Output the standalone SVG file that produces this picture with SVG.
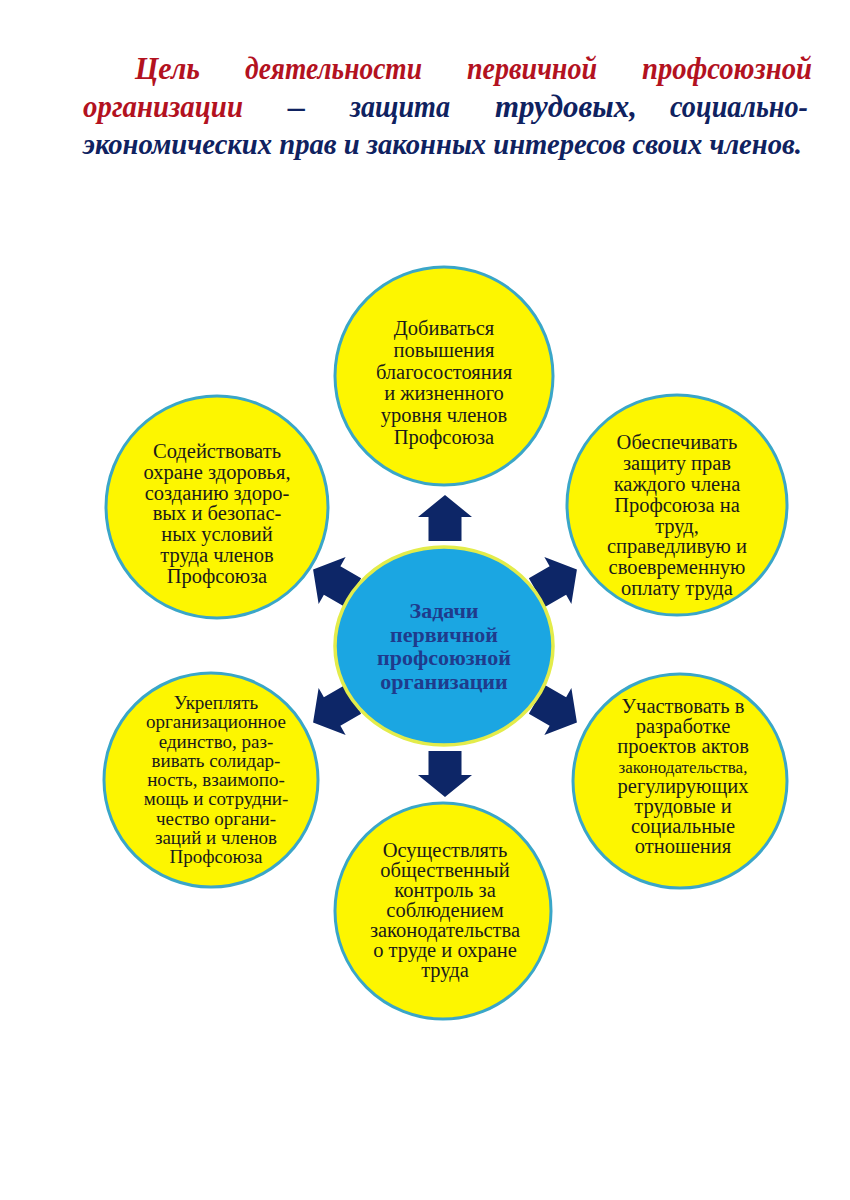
<svg xmlns="http://www.w3.org/2000/svg" width="850" height="1200" viewBox="0 0 850 1200">
<style>
.title{font-family:"Liberation Serif","DejaVu Serif",serif;font-style:italic;font-weight:bold;font-size:31px}
.red{fill:#b3121f}
.navy{fill:#0f2260}
.outer{fill:#fdf600;stroke:#3aa6c8;stroke-width:3}
.center{fill:#1ba6e2;stroke:#e3ec4a;stroke-width:3.5}
.t{font-family:"Liberation Serif","DejaVu Serif",serif;font-size:20.5px;fill:#1a1a1a;text-anchor:middle}
.ts{font-size:19px}
.tc{font-family:"Liberation Serif","DejaVu Serif",serif;font-size:22px;font-weight:bold;fill:#1f3b8c;text-anchor:middle}
.arrow{fill:#0d2667}
</style>
<defs>
<path id="arr" d="M0,-23 L27,-1 L16.5,-1 L16.5,23 L-16.5,23 L-16.5,-1 L-27,-1 Z"/>
</defs>
<rect width="850" height="1200" fill="#ffffff"/>

<g id="title">
<text class="title red" x="135" y="79" textLength="65" lengthAdjust="spacingAndGlyphs">Цель</text>
<text class="title red" x="245" y="79" textLength="177" lengthAdjust="spacingAndGlyphs">деятельности</text>
<text class="title red" x="467" y="79" textLength="130" lengthAdjust="spacingAndGlyphs">первичной</text>
<text class="title red" x="642" y="79" textLength="170" lengthAdjust="spacingAndGlyphs">профсоюзной</text>
<text class="title red" x="83" y="117" textLength="160" lengthAdjust="spacingAndGlyphs">организации</text>
<text class="title navy" x="288" y="117" textLength="17" lengthAdjust="spacingAndGlyphs">–</text>
<text class="title navy" x="350" y="117" textLength="100" lengthAdjust="spacingAndGlyphs">защита</text>
<text class="title navy" x="495" y="117" textLength="142" lengthAdjust="spacingAndGlyphs">трудовых,</text>
<text class="title navy" x="670" y="117" textLength="138" lengthAdjust="spacingAndGlyphs">социально-</text>
<text class="title navy" x="83" y="154" style="font-size:29px" textLength="719" lengthAdjust="spacingAndGlyphs">экономических прав и законных интересов своих членов.</text>
</g>

<g id="connectors" class="arrow">
<use href="#arr" transform="translate(445,518)"/>
<use href="#arr" transform="translate(557,581) rotate(60)"/>
<use href="#arr" transform="translate(557,711) rotate(120)"/>
<use href="#arr" transform="translate(445,774) rotate(180)"/>
<use href="#arr" transform="translate(333,711) rotate(240)"/>
<use href="#arr" transform="translate(333,581) rotate(300)"/>
</g>

<g id="node-center">
<ellipse class="center" cx="444" cy="646" rx="109" ry="99"/>
<text class="tc" x="444" y="618">Задачи</text>
<text class="tc" x="444" y="641.5">первичной</text>
<text class="tc" x="444" y="665">профсоюзной</text>
<text class="tc" x="444" y="688.5">организации</text>
</g>

<g id="node-top">
<circle class="outer" cx="444" cy="376" r="109"/>
<text class="t" x="444" y="335">Добиваться</text>
<text class="t" x="444" y="356.8">повышения</text>
<text class="t" x="444" y="378.6">благосостояния</text>
<text class="t" x="444" y="400.4">и жизненного</text>
<text class="t" x="444" y="422.2">уровня членов</text>
<text class="t" x="444" y="444">Профсоюза</text>
</g>

<g id="node-top-right">
<circle class="outer" cx="677" cy="505" r="110"/>
<text class="t" x="677" y="449">Обеспечивать</text>
<text class="t" x="677" y="470">защиту прав</text>
<text class="t" x="677" y="491">каждого члена</text>
<text class="t" x="677" y="512">Профсоюза на</text>
<text class="t" x="677" y="533">труд,</text>
<text class="t" x="677" y="553">справедливую и</text>
<text class="t" x="677" y="574">своевременную</text>
<text class="t" x="677" y="595">оплату труда</text>
</g>

<g id="node-top-left">
<circle class="outer" cx="217" cy="507" r="111"/>
<text class="t" x="217" y="458">Содействовать</text>
<text class="t" x="217" y="478.8">охране здоровья,</text>
<text class="t" x="217" y="499.6">созданию здоро-</text>
<text class="t" x="217" y="520.4">вых и безопас-</text>
<text class="t" x="217" y="541.2">ных условий</text>
<text class="t" x="217" y="562">труда членов</text>
<text class="t" x="217" y="583">Профсоюза</text>
</g>

<g id="node-bottom-left">
<circle class="outer" cx="211" cy="780" r="107"/>
<text class="t ts" x="216" y="709">Укреплять</text>
<text class="t ts" x="216" y="728.3">организационное</text>
<text class="t ts" x="216" y="747.5">единство, раз-</text>
<text class="t ts" x="216" y="766.8">вивать солидар-</text>
<text class="t ts" x="216" y="786">ность, взаимопо-</text>
<text class="t ts" x="216" y="805.3">мощь и сотрудни-</text>
<text class="t ts" x="216" y="824.5">чество органи-</text>
<text class="t ts" x="216" y="843.8">заций и членов</text>
<text class="t ts" x="216" y="863">Профсоюза</text>
</g>

<g id="node-bottom-right">
<circle class="outer" cx="680" cy="781" r="107"/>
<text class="t" x="683" y="713">Участвовать в</text>
<text class="t" x="683" y="733">разработке</text>
<text class="t" x="683" y="753">проектов актов</text>
<text class="t" x="683" y="773" style="font-size:17px">законодательства,</text>
<text class="t" x="683" y="793">регулирующих</text>
<text class="t" x="683" y="813">трудовые и</text>
<text class="t" x="683" y="833">социальные</text>
<text class="t" x="683" y="853">отношения</text>
</g>

<g id="node-bottom">
<circle class="outer" cx="443" cy="911" r="108"/>
<text class="t" x="445" y="857">Осуществлять</text>
<text class="t" x="445" y="877">общественный</text>
<text class="t" x="445" y="897">контроль за</text>
<text class="t" x="445" y="917">соблюдением</text>
<text class="t" x="445" y="937">законодательства</text>
<text class="t" x="445" y="957">о труде и охране</text>
<text class="t" x="445" y="977">труда</text>
</g>
</svg>
